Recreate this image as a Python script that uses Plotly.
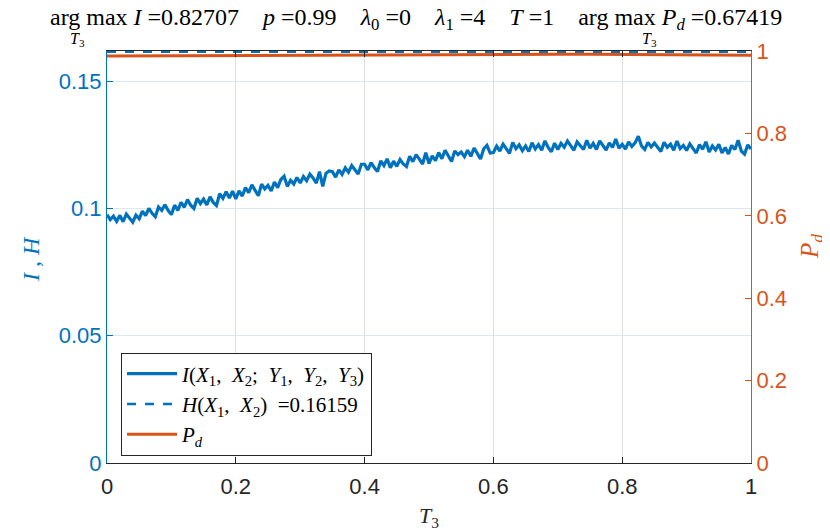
import plotly.graph_objects as go

# T3 sweep for the mutual information curve (201 samples, step 0.005)
t3 = [i / 200 for i in range(201)]
mutual_info = [
    0.0976, 0.0956, 0.0970, 0.0950, 0.0973, 0.0948, 0.0978, 0.0960, 0.0946, 0.0974,
    0.0960, 0.0990, 0.0972, 0.1001, 0.0981, 0.0968, 0.1006, 0.0993, 0.1015, 0.0992,
    0.0976, 0.1013, 0.0993, 0.1024, 0.1005, 0.1035, 0.1013, 0.1000, 0.1040, 0.1019,
    0.1037, 0.1014, 0.1046, 0.1024, 0.1012, 0.1058, 0.1040, 0.1066, 0.1041, 0.1068,
    0.1038, 0.1069, 0.1049, 0.1082, 0.1062, 0.1093, 0.1071, 0.1050, 0.1096, 0.1077,
    0.1091, 0.1069, 0.1104, 0.1082, 0.1114, 0.1127, 0.1087, 0.1111, 0.1096, 0.1122,
    0.1100, 0.1126, 0.1109, 0.1135, 0.1120, 0.1100, 0.1145, 0.1087, 0.1138, 0.1148,
    0.1145, 0.1123, 0.1152, 0.1134, 0.1160, 0.1143, 0.1169, 0.1151, 0.1136, 0.1174,
    0.1174, 0.1152, 0.1180, 0.1161, 0.1145, 0.1187, 0.1169, 0.1195, 0.1160, 0.1186,
    0.1166, 0.1192, 0.1175, 0.1165, 0.1205, 0.1184, 0.1212, 0.1194, 0.1175, 0.1219,
    0.1177, 0.1207, 0.1188, 0.1220, 0.1196, 0.1229, 0.1205, 0.1185, 0.1226, 0.1212,
    0.1222, 0.1204, 0.1229, 0.1205, 0.1238, 0.1214, 0.1195, 0.1235, 0.1248, 0.1218,
    0.1220, 0.1245, 0.1226, 0.1253, 0.1234, 0.1217, 0.1260, 0.1235, 0.1250, 0.1227,
    0.1246, 0.1224, 0.1258, 0.1234, 0.1251, 0.1229, 0.1266, 0.1240, 0.1223, 0.1257,
    0.1232, 0.1256, 0.1241, 0.1265, 0.1247, 0.1229, 0.1262, 0.1245, 0.1232, 0.1268,
    0.1237, 0.1256, 0.1232, 0.1266, 0.1248, 0.1230, 0.1258, 0.1240, 0.1273, 0.1237,
    0.1252, 0.1234, 0.1262, 0.1244, 0.1258, 0.1284, 0.1246, 0.1232, 0.1260, 0.1242,
    0.1257, 0.1239, 0.1224, 0.1260, 0.1241, 0.1253, 0.1229, 0.1265, 0.1236, 0.1248,
    0.1228, 0.1254, 0.1236, 0.1218, 0.1251, 0.1233, 0.1262, 0.1222, 0.1246, 0.1230,
    0.1252, 0.1218, 0.1240, 0.1214, 0.1248, 0.1232, 0.1268, 0.1226, 0.1214, 0.1250,
    0.1234,
]

# entropy H(X1, X2), constant
entropy_x = [0, 1]
entropy_val = [0.16159, 0.16159]

# detection probability P_d
pd_x = [0, 0.05, 0.1, 0.15, 0.2, 0.25, 0.3, 0.35, 0.4, 0.45, 0.5,
        0.55, 0.6, 0.65, 0.7, 0.75, 0.8, 0.85, 0.9, 0.95, 1.0]
pd_val = [0.9880, 0.9884, 0.9888, 0.9892, 0.9896, 0.9900, 0.9904, 0.9907, 0.9910, 0.9913, 0.9915,
          0.9917, 0.9919, 0.9920, 0.9920, 0.9919, 0.9917, 0.9914, 0.9910, 0.9905, 0.9898]

x_ticks = [0, 0.2, 0.4, 0.6, 0.8, 1]
x_ticktext = ['0', '0.2', '0.4', '0.6', '0.8', '1']
left_ticks = [0, 0.05, 0.1, 0.15]
left_ticktext = ['0', '0.05', '0.1', '0.15']
right_ticks = [0, 0.2, 0.4, 0.6, 0.8, 1]
right_ticktext = ['0', '0.2', '0.4', '0.6', '0.8', '1']

BLUE = '#0072BD'
ORANGE = '#D95319'
DARK = '#262626'
SANS = 'Liberation Sans, Arial, sans-serif'
SERIF = 'Liberation Serif, DejaVu Serif, serif'
NB = '\u00a0'
SEP = NB * 2   # math-style spacing after commas in the legend

fig = go.Figure()

fig.add_trace(go.Scatter(
    x=t3, y=mutual_info, mode='lines', yaxis='y',
    line=dict(color=BLUE, width=3.2),
    name=f'<i>I</i>(<i>X</i><sub>1</sub>,{SEP}<i>X</i><sub>2</sub>;{SEP}<i>Y</i><sub>1</sub>,{SEP}'
         f'<i>Y</i><sub>2</sub>,{SEP}<i>Y</i><sub>3</sub>)'))
fig.add_trace(go.Scatter(
    x=entropy_x, y=entropy_val, mode='lines', yaxis='y',
    line=dict(color=BLUE, width=2.5, dash='dash'),
    name=f'<i>H</i>(<i>X</i><sub>1</sub>,{SEP}<i>X</i><sub>2</sub>){SEP}=0.16159'))
fig.add_trace(go.Scatter(
    x=pd_x, y=pd_val, mode='lines', yaxis='y2',
    line=dict(color=ORANGE, width=3),
    name='<i>P<sub>d</sub></i>'))

title = (f'arg max <i>I</i> =0.82707{NB*4}<i>p</i> =0.99{NB*4}<i>λ</i><sub>0</sub> =0{NB*4}'
         f'<i>λ</i><sub>1</sub> =4{NB*4}<i>T</i> =1{NB*4}arg max <i>P<sub>d</sub></i> =0.67419')


# paper coords from page pixels (plot area spans x 107..751, y 51..463 on the page)
def px(xp):
    return (xp - 107) / 644


def py(yp):
    return (463 - yp) / 412


annotations = [
    dict(text=title, x=px(416), y=py(19), font=dict(family=SERIF, size=24, color='black')),
    dict(text='<i>T</i><sub>3</sub>', x=px(77), y=py(39), font=dict(family=SERIF, size=16, color='black')),
    dict(text='<i>T</i><sub>3</sub>', x=px(649), y=py(39), font=dict(family=SERIF, size=16, color='black')),
    dict(text='<i>T</i><sub>3</sub>', x=px(429), y=py(517), font=dict(family=SERIF, size=22, color=DARK)),
    dict(text=f'<i>I</i>{NB},{NB}<i>H</i>', x=px(31), y=py(259), textangle=-90,
         font=dict(family=SERIF, size=24, color=BLUE)),
    dict(text='<i>P<sub>d</sub></i>', x=px(811), y=py(247), textangle=-90,
         font=dict(family=SERIF, size=25, color=ORANGE)),
]
for a in annotations:
    a.update(xref='paper', yref='paper', showarrow=False, xanchor='center', yanchor='middle')

# page body has an 8px margin, so the figure is 8px smaller and margins shifted
fig.update_layout(
    width=822, height=524,
    margin=dict(l=99, r=79, t=43, b=69),
    paper_bgcolor='white', plot_bgcolor='white',
    annotations=annotations,
    xaxis=dict(range=[0, 1], tickvals=x_ticks, ticktext=x_ticktext,
               tickfont=dict(family=SANS, size=22, color=DARK),
               showline=True, linecolor=DARK, linewidth=1, mirror='ticks',
               ticks='inside', ticklen=6, tickcolor=DARK, ticklabelstandoff=4,
               showgrid=True, gridcolor='#dedede', zeroline=False),
    yaxis=dict(range=[0, 0.1619], tickvals=left_ticks, ticktext=left_ticktext,
               tickfont=dict(family=SANS, size=22, color=BLUE),
               showline=True, linecolor=BLUE, linewidth=1,
               ticks='inside', ticklen=6, tickcolor=BLUE,
               showgrid=True, gridcolor='#d9eaf5', zeroline=False),
    yaxis2=dict(range=[0, 1], overlaying='y', side='right',
                tickvals=right_ticks, ticktext=right_ticktext,
                tickfont=dict(family=SANS, size=22, color=ORANGE),
                showline=True, linecolor=ORANGE, linewidth=1,
                ticks='inside', ticklen=6, tickcolor=ORANGE,
                showgrid=False, zeroline=False),
    legend=dict(x=px(121), y=py(404), xanchor='left', yanchor='middle',
                bgcolor='white', bordercolor=DARK, borderwidth=1,
                font=dict(family=SERIF, size=21, color='black'),
                itemwidth=50, tracegroupgap=0),
    showlegend=True,
)

fig.write_html("out.html")
